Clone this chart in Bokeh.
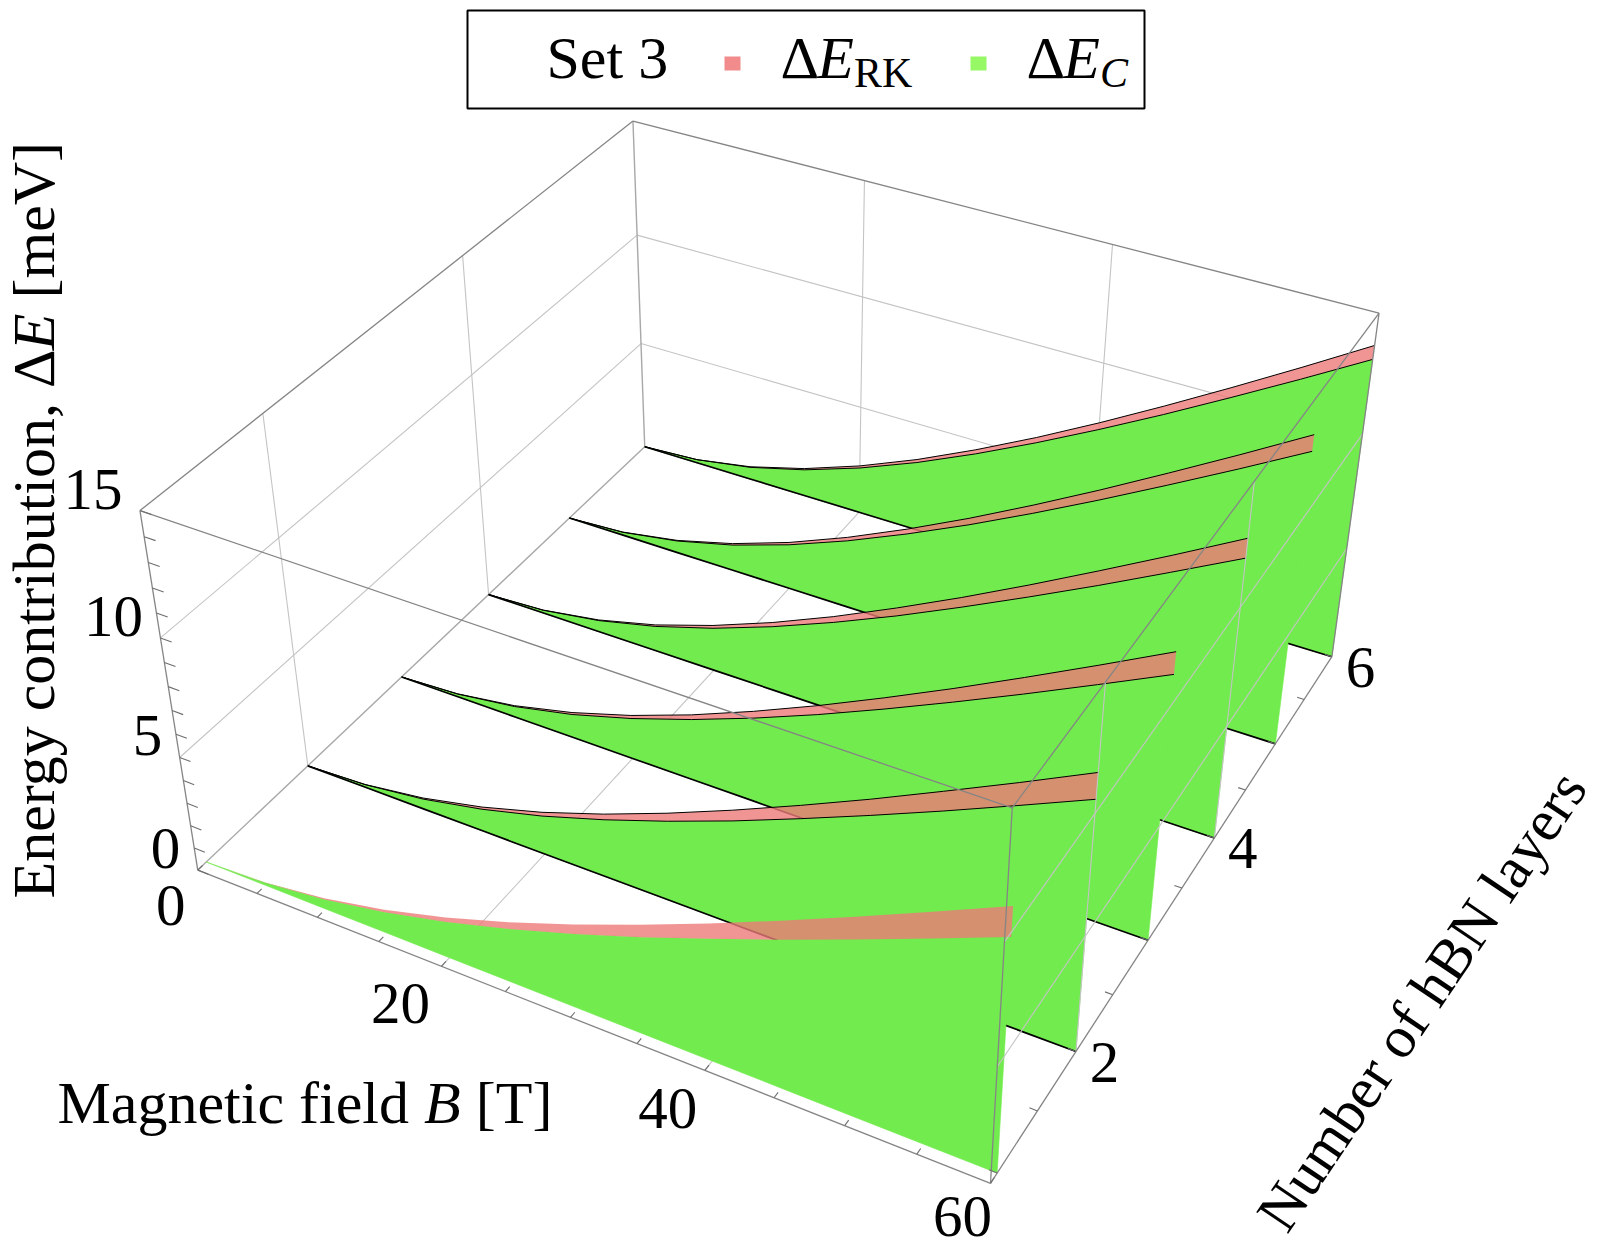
import numpy as np
from bokeh.plotting import figure
from bokeh.models import Range1d
from bokeh.embed import file_html
from bokeh.resources import INLINE
from bokeh.core.properties import value

# ---------------- data ----------------
B_FIELD = [0, 5, 10, 15, 20, 25, 30, 35, 40, 45, 50, 55, 60]
LAYERS = [1, 2, 3, 4, 5, 6]

DE_C_1 = [0, 0.11, 0.43, 0.94, 1.60, 2.39, 3.28, 4.25, 5.29, 6.36, 7.48, 8.63, 9.80]
DE_C_2 = [0, 0.12, 0.46, 1.01, 1.72, 2.58, 3.54, 4.58, 5.70, 6.86, 8.06, 9.30, 10.56]
DE_C_3 = [0, 0.13, 0.49, 1.07, 1.84, 2.75, 3.77, 4.88, 6.07, 7.31, 8.59, 9.91, 11.25]
DE_C_4 = [0, 0.13, 0.53, 1.15, 1.96, 2.93, 4.02, 5.20, 6.47, 7.79, 9.15, 10.56, 11.99]
DE_C_5 = [0, 0.14, 0.56, 1.21, 2.07, 3.10, 4.26, 5.51, 6.85, 8.25, 9.70, 11.18, 12.70]
DE_C_6 = [0, 0.15, 0.57, 1.25, 2.14, 3.20, 4.40, 5.70, 7.08, 8.52, 10.02, 11.55, 13.12]

DE_RK_1 = [0, 0.12, 0.48, 1.05, 1.80, 2.69, 3.69, 4.78, 5.93, 7.14, 8.40, 9.69, 11.00]
DE_RK_2 = [0, 0.13, 0.51, 1.11, 1.89, 2.83, 3.89, 5.04, 6.26, 7.53, 8.86, 10.21, 11.60]
DE_RK_3 = [0, 0.14, 0.53, 1.16, 1.98, 2.96, 4.07, 5.27, 6.55, 7.88, 9.27, 10.69, 12.14]
DE_RK_4 = [0, 0.14, 0.56, 1.22, 2.09, 3.12, 4.28, 5.55, 6.89, 8.30, 9.76, 11.25, 12.78]
DE_RK_5 = [0, 0.15, 0.59, 1.28, 2.18, 3.26, 4.48, 5.80, 7.21, 8.68, 10.21, 11.77, 13.37]
DE_RK_6 = [0, 0.15, 0.60, 1.31, 2.24, 3.34, 4.59, 5.94, 7.38, 8.89, 10.45, 12.05, 13.69]

B_TICK_LABELS = [0, 20, 40, 60]
E_TICK_LABELS = [0, 5, 10, 15]
L_TICK_LABELS = [2, 4, 6]
B_MINOR_STEP = 5
E_MINOR_STEP = 1
L_MINOR_STEP = 0.5
B_MIN, B_MAX = 0.0, 60.0
E_MIN, E_MAX = 0.0, 15.0
L_MAX = 6.0

LEGEND_NAME = "Set 3"
X_TITLE = ("Magnetic field", "B", "[T]")
Y_TITLE = ("Energy contribution, \u0394", "E", "[meV]")
L_TITLE = "Number of hBN layers"

# ---------------- camera (perspective, calibrated on the box) ----------------
# (B, layers, E, page_x, page_y); layers None = front face of the box
CAM_REF = [
    (0, None, 0, 196.7, 870.0), (0, None, 15, 140.0, 510.7),
    (0, 6, 15, 632.7, 120.0), (0, 6, 0, 644.0, 446.7),
    (60, 6, 15, 1378.0, 311.7), (60, 6, 0, 1331.7, 656.7),
    (60, None, 0, 989.3, 1184.3), (60, None, 15, 1011.7, 808.3),
    (60, 2, 0, 1075.0, 1051.6), (60, 3, 0, 1148.3, 938.7),
    (60, 4, 0, 1213.3, 837.3), (60, 5, 0, 1275.0, 743.5),
    (0, 2, 0, 306.7, 765.0), (0, 6, 5, 640.7, 343.3), (0, 6, 10, 636.7, 235.0),
    (20, None, 0, 443.0, 965.0), (40, None, 0, 704.8, 1068.3),
    (0, None, 5, 178.0, 757.0), (0, None, 10, 160.0, 637.0),
]
CX, CY, SC = 800.0, 650.0, 500.0


def _norm(b, l, e):
    return np.array([b / 60.0, (l - 3.5) / 2.5, e / 15.0, 1.0])


def fit_camera(L0):
    rows = []
    for b, l, e, u, v in CAM_REF:
        x = _norm(b, L0 if l is None else l, e)
        un, vn = (u - CX) / SC, (v - CY) / SC
        rows.append(np.concatenate([x, np.zeros(4), -un * x]))
        rows.append(np.concatenate([np.zeros(4), x, -vn * x]))
    _, _, vt = np.linalg.svd(np.array(rows))
    M = vt[-1].reshape(3, 4)
    err = 0.0
    for b, l, e, u, v in CAM_REF:
        w = M @ _norm(b, L0 if l is None else l, e)
        pu, pv = w[0] / w[2] * SC + CX, w[1] / w[2] * SC + CY
        err += (pu - u) ** 2 + (pv - v) ** 2
    return M, err


best = None
for L0c in np.arange(0.5, 1.2001, 0.005):
    M, err = fit_camera(L0c)
    if best is None or err < best[2]:
        best = (M, L0c, err)
CAM, L_MIN, _ = best


def proj(B, L, E):
    B, L, E = np.broadcast_arrays(np.asarray(B, float), np.asarray(L, float), np.asarray(E, float))
    X = np.stack([B / 60.0, (L - 3.5) / 2.5, E / 15.0, np.ones_like(B)], axis=-1)
    w = X @ CAM.T
    return (w[..., 0] / w[..., 2] * SC + CX).tolist(), (w[..., 1] / w[..., 2] * SC + CY).tolist()


def seg(a, b):
    return proj([a[0], b[0]], [a[1], b[1]], [a[2], b[2]])


# ---------------- figure ----------------
W, H = 1600, 1250
p = figure(width=W, height=H, x_range=Range1d(0, W), y_range=Range1d(H, 0),
           output_backend="svg", toolbar_location=None, min_border=0,
           x_axis_type=None, y_axis_type=None)
p.xgrid.visible = False
p.ygrid.visible = False
p.outline_line_color = None
p.background_fill_color = "white"
p.border_fill_color = "white"

FONT = "Liberation Serif"
GRID = "#c4c4c4"
EDGE = "#858585"
GREEN = "#72EB4E"
PINK = "#EE7979"


def lines(segs, color, width, alpha=1.0):
    xs, ys = [], []
    for a, b in segs:
        sx, sy = seg(a, b)
        xs.append(sx)
        ys.append(sy)
    p.multi_line(xs, ys, line_color=color, line_width=width, line_alpha=alpha)


def txt(x, y, s, size=59, style="normal", align="left", angle=0.0):
    # y (or x for rotated text) is the middle line of the text
    p.text(x=[x], y=[y], text=[s], text_font=value(FONT), text_font_size=value(f"{size}px"),
           text_font_style=style, text_align=align, text_baseline="middle", angle=angle,
           text_color="black")


# back walls grids (behind the sheets)
back_grid = []
for e in (5, 10):
    back_grid.append(((B_MIN, L_MIN, e), (B_MIN, L_MAX, e)))      # left wall
    back_grid.append(((B_MIN, L_MAX, e), (B_MAX, L_MAX, e)))      # back wall
for l in (2, 4):
    back_grid.append(((B_MIN, l, E_MIN), (B_MIN, l, E_MAX)))      # left wall
    back_grid.append(((B_MIN, l, E_MIN), (B_MAX, l, E_MIN)))      # floor
for b in (20, 40):
    back_grid.append(((b, L_MAX, E_MIN), (b, L_MAX, E_MAX)))      # back wall
    back_grid.append(((b, L_MIN, E_MIN), (b, L_MAX, E_MIN)))      # floor
lines(back_grid, GRID, 1.1)

back_edges = [
    ((B_MIN, L_MIN, E_MIN), (B_MIN, L_MAX, E_MIN)),
    ((B_MIN, L_MAX, E_MIN), (B_MAX, L_MAX, E_MIN)),
    ((B_MIN, L_MAX, E_MIN), (B_MIN, L_MAX, E_MAX)),
]
lines(back_edges, "#a8a8a8", 1.4)

# sheets, back to front
C_ALL = {1: DE_C_1, 2: DE_C_2, 3: DE_C_3, 4: DE_C_4, 5: DE_C_5, 6: DE_C_6}
RK_ALL = {1: DE_RK_1, 2: DE_RK_2, 3: DE_RK_3, 4: DE_RK_4, 5: DE_RK_5, 6: DE_RK_6}
Bv = np.array(B_FIELD, float)
for n in reversed(LAYERS):
    c = np.array(C_ALL[n], float)
    rk = np.array(RK_ALL[n], float)
    fx, fy = proj(Bv, n, 0.0)
    cx, cy = proj(Bv, n, c)
    rx, ry = proj(Bv, n, rk)
    p.patch(fx + cx[::-1], fy + cy[::-1], fill_color=GREEN, line_color=GREEN, line_width=0.6)
    p.patch(cx + rx[::-1], cy + ry[::-1], fill_color=PINK, fill_alpha=0.8, line_color=None)
    if n != 1:
        p.line(fx, fy, line_color="black", line_width=1.7)
        p.line(cx, cy, line_color="black", line_width=1.0)
        p.line(rx, ry, line_color="black", line_width=1.0)

# right face grids (drawn over the sheets)
right_grid = []
for e in (5, 10):
    right_grid.append(((B_MAX, L_MIN, e), (B_MAX, L_MAX, e)))
for l in (2, 4):
    right_grid.append(((B_MAX, l, E_MIN), (B_MAX, l, E_MAX)))
lines(right_grid, GRID, 1.1)

front_edges = [
    ((B_MAX, L_MAX, E_MIN), (B_MAX, L_MAX, E_MAX)),
    ((B_MIN, L_MIN, E_MIN), (B_MAX, L_MIN, E_MIN)),
    ((B_MIN, L_MIN, E_MIN), (B_MIN, L_MIN, E_MAX)),
    ((B_MAX, L_MIN, E_MIN), (B_MAX, L_MIN, E_MAX)),
    ((B_MIN, L_MIN, E_MAX), (B_MAX, L_MIN, E_MAX)),
    ((B_MIN, L_MIN, E_MAX), (B_MIN, L_MAX, E_MAX)),
    ((B_MIN, L_MAX, E_MAX), (B_MAX, L_MAX, E_MAX)),
    ((B_MAX, L_MIN, E_MAX), (B_MAX, L_MAX, E_MAX)),
    ((B_MAX, L_MIN, E_MIN), (B_MAX, L_MAX, E_MIN)),
]
lines(front_edges, EDGE, 1.3)

# ticks
ticks = []
for e in np.arange(E_MIN, E_MAX + 1e-9, E_MINOR_STEP):
    ticks.append(((B_MIN, L_MIN, e), (B_MIN + 0.9, L_MIN, e)))
for b in np.arange(B_MIN, B_MAX + 1e-9, B_MINOR_STEP):
    ticks.append(((b, L_MIN, E_MIN), (b, L_MIN + 0.045, E_MIN)))
for l in np.arange(1.0, L_MAX + 1e-9, L_MINOR_STEP):
    ticks.append(((B_MAX, l, E_MIN), (B_MAX - 0.55, l, E_MIN)))
lines(ticks, "#6e6e6e", 1.1)

# tick labels
for e in E_TICK_LABELS:
    x, y = proj(B_MIN, L_MIN, e)
    txt(x - 17.5, y - 21.5, str(e), align="right")
B_LABEL_DX = [-27, -41, -37, -28]
B_LABEL_DY = [35, 37, 38, 33]
for b, dx, dy in zip(B_TICK_LABELS, B_LABEL_DX, B_LABEL_DY):
    x, y = proj(b, L_MIN, E_MIN)
    txt(x + dx, y + dy, str(b), align="center")
for l in L_TICK_LABELS:
    x, y = proj(B_MAX, l, E_MIN)
    txt(x + 28.5, y + 10.5, str(l), align="center")

# axis titles
TS = 60
TY = 1102
txt(57, TY, X_TITLE[0], size=TS)
txt(57 + 6.11 * TS, TY, X_TITLE[1], size=TS, style="italic")
txt(57 + (6.11 + 0.611 + 0.25) * TS, TY, X_TITLE[2], size=TS)

ang = np.pi / 2
TX = 33
y0 = 898
txt(TX, y0, Y_TITLE[0], size=TS, angle=ang)
txt(TX, y0 - 9.139 * TS, Y_TITLE[1], size=TS, style="italic", angle=ang)
txt(TX, y0 - (9.139 + 0.611 + 0.25) * TS, Y_TITLE[2], size=TS, angle=ang)

txt(1421, 1000, L_TITLE, size=59, align="center", angle=np.deg2rad(56.0))

# legend
p.quad(left=[467], right=[1144], top=[10], bottom=[108], fill_color="white",
       line_color="black", line_width=2)
LS = 60
LY = 57
SUB_Y = 72
txt(546, LY, LEGEND_NAME, size=LS)
p.quad(left=[724], right=[740], top=[56], bottom=[70], fill_color="#F28C8C", line_color=None)
txt(780, LY, "\u0394", size=LS)
txt(780 + 0.612 * LS, LY, "E", size=LS, style="italic")
txt(780 + 1.223 * LS, SUB_Y, "RK", size=42)
p.quad(left=[970], right=[986], top=[56], bottom=[70], fill_color="#96F864", line_color=None)
txt(1026, LY, "\u0394", size=LS)
txt(1026 + 0.612 * LS, LY, "E", size=LS, style="italic")
txt(1026 + 1.223 * LS, SUB_Y, "C", size=42, style="italic")

open("out.html", "w").write(file_html(p, INLINE))
